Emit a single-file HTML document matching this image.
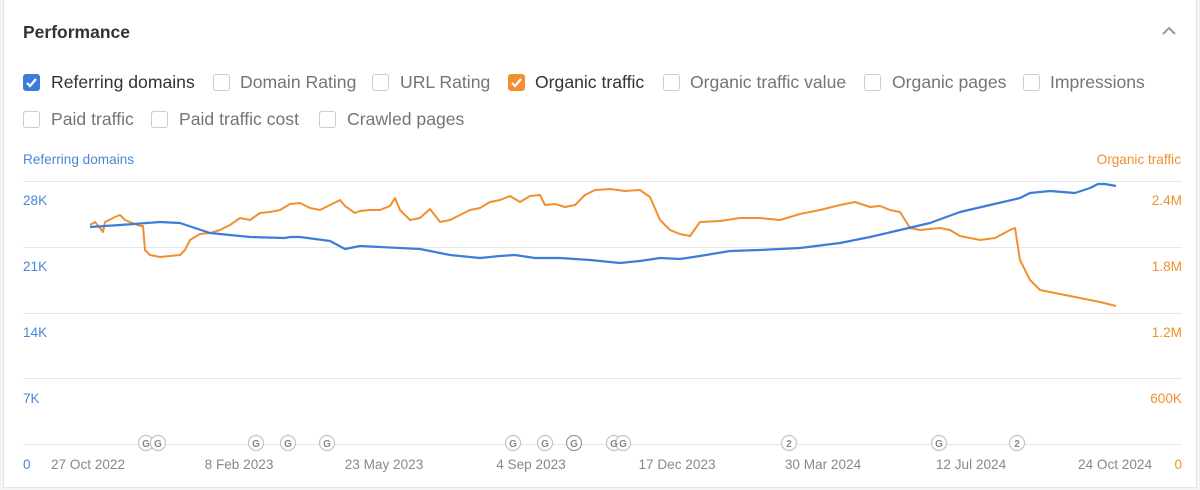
<!DOCTYPE html>
<html><head><meta charset="utf-8"><style>
*{margin:0;padding:0;box-sizing:border-box}
body{width:1200px;height:490px;background:#f3f4f6;font-family:"Liberation Sans",Arial,sans-serif;position:relative;overflow:hidden}
.card{position:absolute;left:3px;top:-2px;width:1194px;height:490px;background:#fff;border:1px solid #e3e5e8;border-top:none}
.t{position:absolute;white-space:nowrap}
.cb{position:absolute;width:17px;height:17px;border:1px solid #c9ccd1;border-radius:3px;background:#fff}
.lb{position:absolute;font-size:17.6px;color:#757575;white-space:nowrap}
</style></head><body>
<div class="card"></div>
<div class="t" style="left:23px;top:22px;font-size:17.5px;font-weight:bold;color:#333">Performance</div>
<svg style="position:absolute;left:1161px;top:26px" width="16" height="10"><polyline points="2,8 8,2 14,8" fill="none" stroke="#999" stroke-width="2"/></svg>

<div class="cb" style="left:23px;top:74px;background:#3b7dd8;border-color:#3b7dd8"></div>
<svg style="position:absolute;left:23px;top:74px" width="17" height="17"><polyline points="4,9 7,12 13,5" fill="none" stroke="#fff" stroke-width="2.2"/></svg>
<div class="lb" style="left:51px;top:72px;color:#333">Referring domains</div>
<div class="cb" style="left:213px;top:74px"></div><div class="lb" style="left:240px;top:72px">Domain Rating</div>
<div class="cb" style="left:372px;top:74px"></div><div class="lb" style="left:400px;top:72px">URL Rating</div>
<div class="cb" style="left:508px;top:74px;background:#f0902e;border-color:#f0902e"></div>
<svg style="position:absolute;left:508px;top:74px" width="17" height="17"><polyline points="4,9 7,12 13,5" fill="none" stroke="#fff" stroke-width="2.2"/></svg>
<div class="lb" style="left:535px;top:72px;color:#333">Organic traffic</div>
<div class="cb" style="left:663px;top:74px"></div><div class="lb" style="left:690px;top:72px">Organic traffic value</div>
<div class="cb" style="left:864px;top:74px"></div><div class="lb" style="left:892px;top:72px">Organic pages</div>
<div class="cb" style="left:1023px;top:74px"></div><div class="lb" style="left:1050px;top:72px">Impressions</div>
<div class="cb" style="left:23px;top:111px"></div><div class="lb" style="left:51px;top:109px">Paid traffic</div>
<div class="cb" style="left:151px;top:111px"></div><div class="lb" style="left:179px;top:109px">Paid traffic cost</div>
<div class="cb" style="left:319px;top:111px"></div><div class="lb" style="left:347px;top:109px">Crawled pages</div>

<svg style="position:absolute;left:0;top:0" width="1200" height="490" font-family="Liberation Sans, Arial, sans-serif" font-size="13.6">
<text x="23" y="164" fill="#4a86d8">Referring domains</text>
<text x="1181" y="164" fill="#f0902e" text-anchor="end">Organic traffic</text>
<g stroke="#e6e7e9" stroke-width="1">
<line x1="23" y1="181.5" x2="1182" y2="181.5"/><line x1="23" y1="247.5" x2="1182" y2="247.5"/>
<line x1="23" y1="313.5" x2="1182" y2="313.5"/><line x1="23" y1="378.5" x2="1182" y2="378.5"/>
<line x1="23" y1="444.5" x2="1182" y2="444.5"/></g>
<g fill="#4a86d8"><text x="23" y="205">28K</text><text x="23" y="271">21K</text><text x="23" y="337">14K</text><text x="23" y="403">7K</text><text x="23" y="469">0</text></g>
<g fill="#f0902e" text-anchor="end"><text x="1182" y="205">2.4M</text><text x="1182" y="271">1.8M</text><text x="1182" y="337">1.2M</text><text x="1182" y="403">600K</text><text x="1182" y="469">0</text></g>
<g fill="#888" text-anchor="middle"><text x="88" y="469">27 Oct 2022</text><text x="239" y="469">8 Feb 2023</text><text x="384" y="469">23 May 2023</text><text x="531" y="469">4 Sep 2023</text><text x="677" y="469">17 Dec 2023</text><text x="823" y="469">30 Mar 2024</text><text x="971" y="469">12 Jul 2024</text><text x="1115" y="469">24 Oct 2024</text></g>
<polyline fill="none" stroke="#f0902e" stroke-width="2" stroke-linejoin="round" points="90,225 95,222 100,228 103,232 105,222 115,217 120,215 125,220 140,226 143,226 145,250 150,255 160,257 170,256 180,255 185,250 190,240 200,234 210,233 220,230 230,225 240,218 250,220 260,213 270,212 280,210 290,204 300,203 310,208 320,210 330,205 340,200 345,206 355,213 360,211 370,210 380,210 390,206 395,198 400,210 410,220 420,218 430,209 440,222 450,220 460,215 470,210 480,208 490,202 500,200 510,196 520,202 530,196 540,195 545,205 555,204 565,207 575,205 585,195 595,190 610,189 625,191 640,190 650,197 660,220 670,230 680,234 690,236 700,222 720,221 740,218 760,218 780,220 800,214 820,210 840,205 855,202 870,207 880,206 890,210 900,212 910,228 920,230 940,228 950,230 960,236 980,240 995,238 1010,230 1015,228 1020,260 1030,280 1040,290 1060,294 1080,298 1100,302 1116,306"/>
<polyline fill="none" stroke="#3b7dd8" stroke-width="2.2" stroke-linejoin="round" points="90,227 120,225 160,222 180,223 210,233 250,237 285,238 290,237 300,237 315,239 330,241 345,249 360,246 380,247 420,249 450,255 480,258 500,256 515,255 535,258 560,258 590,260 620,263 640,261 660,258 680,259 700,256 730,251 760,250 800,248 840,243 870,237 900,230 930,223 960,212 990,205 1020,198 1030,193 1050,191 1075,193 1090,188 1098,184 1105,184 1116,186"/>
<g fill="#fff" stroke="#c4c4c4" stroke-width="1.2">
<circle cx="146" cy="443" r="7.5"/><circle cx="158" cy="443" r="7.5"/><circle cx="256" cy="443" r="7.5"/><circle cx="288" cy="443" r="7.5"/><circle cx="327" cy="443" r="7.5"/><circle cx="513" cy="443" r="7.5"/><circle cx="545" cy="443" r="7.5"/><circle cx="574" cy="443" r="7.5" stroke="#999"/><circle cx="614" cy="443" r="7.5"/><circle cx="623" cy="443" r="7.5"/><circle cx="789" cy="443" r="7.5"/><circle cx="939" cy="443" r="7.5"/><circle cx="1017" cy="443" r="7.5"/></g>
<g fill="#888" font-size="10" font-weight="bold" text-anchor="middle">
<text x="146" y="447">G</text><text x="158" y="447">G</text><text x="256" y="447">G</text><text x="288" y="447">G</text><text x="327" y="447">G</text><text x="513" y="447">G</text><text x="545" y="447">G</text><text x="574" y="447">G</text><text x="614" y="447">G</text><text x="623" y="447">G</text><text x="789" y="447">2</text><text x="939" y="447">G</text><text x="1017" y="447">2</text></g>
</svg>
</body></html>
